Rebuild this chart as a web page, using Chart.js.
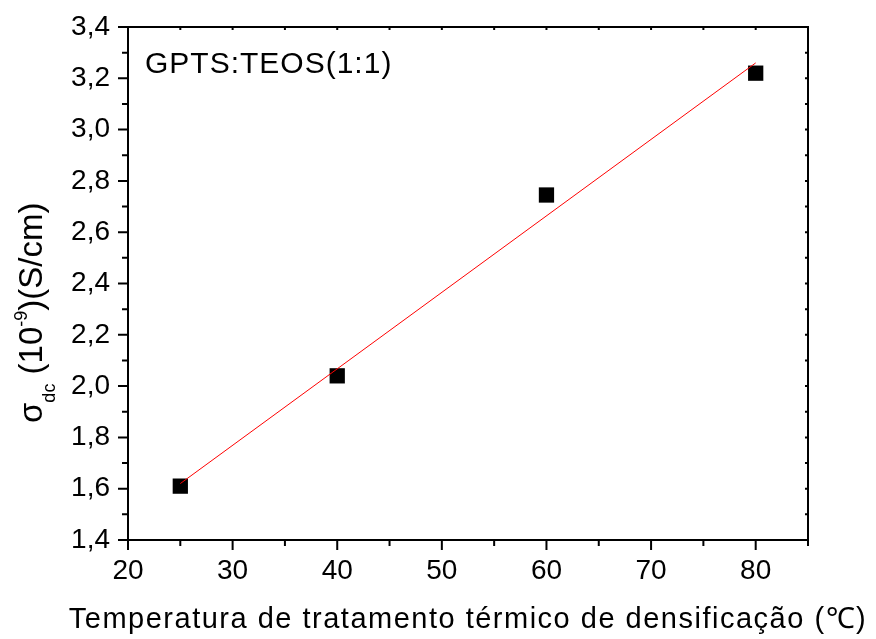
<!DOCTYPE html>
<html>
<head>
<meta charset="utf-8">
<script src="https://cdn.jsdelivr.net/npm/chart.js@4/dist/chart.umd.min.js"></script>
<style>
  html, body { margin: 0; padding: 0; background: #fff; }
</style>
</head>
<body>
<canvas id="chart" width="876" height="639"></canvas>
<script>
// conductivity vs. densification temperature
var temperatures = [25, 40, 60, 80];
var sigmaDc = [1.61, 2.04, 2.745, 3.22];

// linear fit drawn between these two ends
var fitX = [25, 80];
var fitY = [1.62, 3.26];

var xTicks = [20, 30, 40, 50, 60, 70, 80];
var xMinorTicks = [25, 35, 45, 55, 65, 75, 85];
var yTicks = [1.4, 1.6, 1.8, 2.0, 2.2, 2.4, 2.6, 2.8, 3.0, 3.2, 3.4];
var yMinorTicks = [1.5, 1.7, 1.9, 2.1, 2.3, 2.5, 2.7, 2.9, 3.1, 3.3];

var sampleLabel = 'GPTS:TEOS(1:1)';
var xTitle = 'Temperatura de tratamento térmico de densificação (℃)';
var yTitleParts = [
    { text: 'σ', size: 33, shift: 0 },
    { text: 'dc', size: 18, shift: 13 },
    { text: ' (10', size: 33, shift: 0 },
    { text: '-9', size: 18, shift: -15 },
    { text: ')(S/cm)', size: 33, shift: 0 }
];

var FONT = '"Liberation Sans", Arial, Helvetica, sans-serif';

function toPoints(xs, ys) {
    return xs.map(function (x, i) { return { x: x, y: ys[i] }; });
}

var framePlugin = {
    id: 'frame',
    afterDraw: function (chart) {
        var ctx = chart.ctx;
        var a = chart.chartArea;
        var xs = chart.scales.x, ys = chart.scales.y;
        ctx.save();
        ctx.strokeStyle = '#000';
        ctx.lineWidth = 2;
        ctx.strokeRect(a.left, a.top, a.right - a.left, a.bottom - a.top);

        ctx.beginPath();
        xTicks.concat(xMinorTicks).forEach(function (v) {
            var px = xs.getPixelForValue(v);
            var len = xTicks.indexOf(v) >= 0 ? 10 : 6;
            ctx.moveTo(px, a.bottom); ctx.lineTo(px, a.bottom + len);
            ctx.moveTo(px, a.top); ctx.lineTo(px, a.top + 3);
        });
        yTicks.concat(yMinorTicks).forEach(function (v) {
            var py = ys.getPixelForValue(v);
            var len = yTicks.indexOf(v) >= 0 ? 10 : 6;
            ctx.moveTo(a.left, py); ctx.lineTo(a.left - len, py);
            ctx.moveTo(a.right, py); ctx.lineTo(a.right - 3, py);
        });
        ctx.stroke();

        ctx.fillStyle = '#000';
        ctx.textBaseline = 'alphabetic';

        // sample name in the upper left corner
        ctx.font = '30px ' + FONT;
        ctx.letterSpacing = '1px';
        ctx.textAlign = 'left';
        ctx.fillText(sampleLabel, a.left + 17, a.top + 46);

        // x axis title
        ctx.font = '29px ' + FONT;
        ctx.letterSpacing = '1.5px';
        ctx.textAlign = 'center';
        ctx.fillText(xTitle, (a.left + a.right) / 2, 628);
        ctx.letterSpacing = '0px';

        // y axis title with sub/superscripts
        ctx.translate(42, 423);
        ctx.rotate(-Math.PI / 2);
        ctx.textAlign = 'left';
        var pos = 0;
        yTitleParts.forEach(function (p) {
            ctx.font = p.size + 'px ' + FONT;
            ctx.fillText(p.text, pos, p.shift);
            pos += ctx.measureText(p.text).width;
        });
        ctx.restore();
    }
};

var ctx = document.getElementById('chart').getContext('2d');
var myChart = new Chart(ctx, {
    type: 'scatter',
    data: {
        datasets: [{
            label: 'ajuste',
            data: toPoints(fitX, fitY),
            showLine: true,
            borderColor: '#ff0000',
            borderWidth: 1,
            pointRadius: 0,
            order: 0
        },
        {
            label: 'sigma',
            data: toPoints(temperatures, sigmaDc),
            pointStyle: 'rect',
            pointRadius: 10.8,
            backgroundColor: '#000',
            borderColor: '#000',
            borderWidth: 0,
            order: 1
        }]
    },
    options: {
        responsive: false,
        animation: false,
        devicePixelRatio: 1,
        layout: { padding: { top: 27, right: 68, left: 0, bottom: 0 } },
        plugins: {
            legend: { display: false },
            tooltip: { enabled: false }
        },
        scales: {
            x: {
                type: 'linear',
                min: 20,
                max: 85,
                grid: { display: false, drawTicks: false },
                border: { display: false },
                afterBuildTicks: function (scale) {
                    scale.ticks = xTicks.map(function (v) { return { value: v }; });
                },
                afterFit: function (scale) {
                    scale.height = 99;
                    scale.paddingLeft = 0;
                    scale.paddingRight = 0;
                },
                ticks: {
                    color: '#000',
                    padding: 14,
                    maxRotation: 0,
                    font: { family: FONT, size: 28 },
                    callback: function (v) { return String(v); }
                }
            },
            y: {
                type: 'linear',
                min: 1.4,
                max: 3.4,
                grid: { display: false, drawTicks: false },
                border: { display: false },
                afterBuildTicks: function (scale) {
                    scale.ticks = yTicks.map(function (v) { return { value: v }; });
                },
                afterFit: function (scale) {
                    scale.width = 128;
                    scale.paddingTop = 0;
                    scale.paddingBottom = 0;
                },
                ticks: {
                    color: '#000',
                    padding: 18,
                    font: { family: FONT, size: 28 },
                    callback: function (v) { return v.toFixed(1).replace('.', ','); }
                }
            }
        }
    },
    plugins: [framePlugin]
});
</script>
</body>
</html>
